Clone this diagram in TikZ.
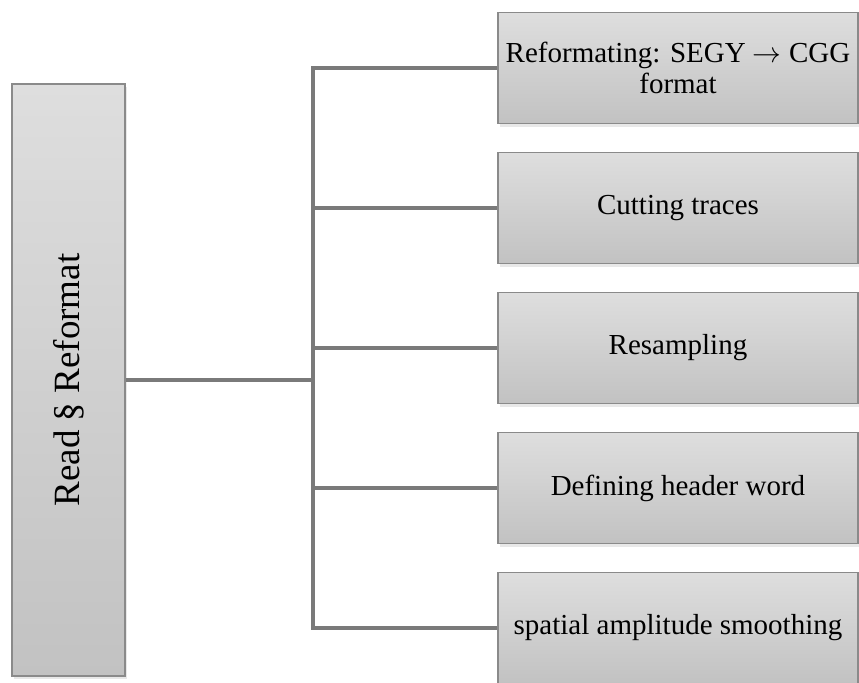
\documentclass[tikz,border=0pt]{standalone}
\usepackage{fontspec}
\setmainfont{Liberation Serif}
\usetikzlibrary{positioning,shadows}
\definecolor{BoxTop}{RGB}{222,222,222}
\definecolor{BoxBottom}{RGB}{194,194,194}
\definecolor{BoxEdge}{RGB}{138,138,138}
\definecolor{LinkGray}{RGB}{122,122,122}

\begin{document}
\begin{tikzpicture}[x=0.5pt,y=-0.5pt,
    stage/.style={draw=BoxEdge,line width=0.6pt,top color=BoxTop,bottom color=BoxBottom,
      drop shadow={opacity=0.18,shadow xshift=1.2pt,shadow yshift=-1.5pt},
      minimum width=180pt,minimum height=55.5pt,inner sep=0pt,align=center,
      font=\fontsize{14.5}{15.5}\selectfont},
    link/.style={draw=LinkGray,line width=2pt}]
  \useasboundingbox (0,0) rectangle (859,682);
  % main step, text turned upright
  \node[stage,minimum width=56.5pt,minimum height=296pt] (root) at (68.5,380)
    {\rotatebox{90}{\fontsize{18.5}{20}\selectfont Read § Reformat}};
  % sub steps
  \node[stage] (task1) at (678,68)  {Reformating: SEGY $\rightarrow$ CGG\\format};
  \node[stage] (task2) at (678,208) {Cutting traces};
  \node[stage] (task3) at (678,348) {Resampling};
  \node[stage] (task4) at (678,488) {Defining header word};
  \node[stage] (task5) at (678,628) {spatial amplitude smoothing};
  % tree lines
  \coordinate (hub) at (313,380);
  \draw[link] (root.east) -- (hub);
  \draw[link] (hub) |- (task1.west);
  \draw[link] (hub) |- (task2.west);
  \draw[link] (hub) |- (task3.west);
  \draw[link] (hub) |- (task4.west);
  \draw[link] (hub) |- (task5.west);
\end{tikzpicture}
\end{document}
